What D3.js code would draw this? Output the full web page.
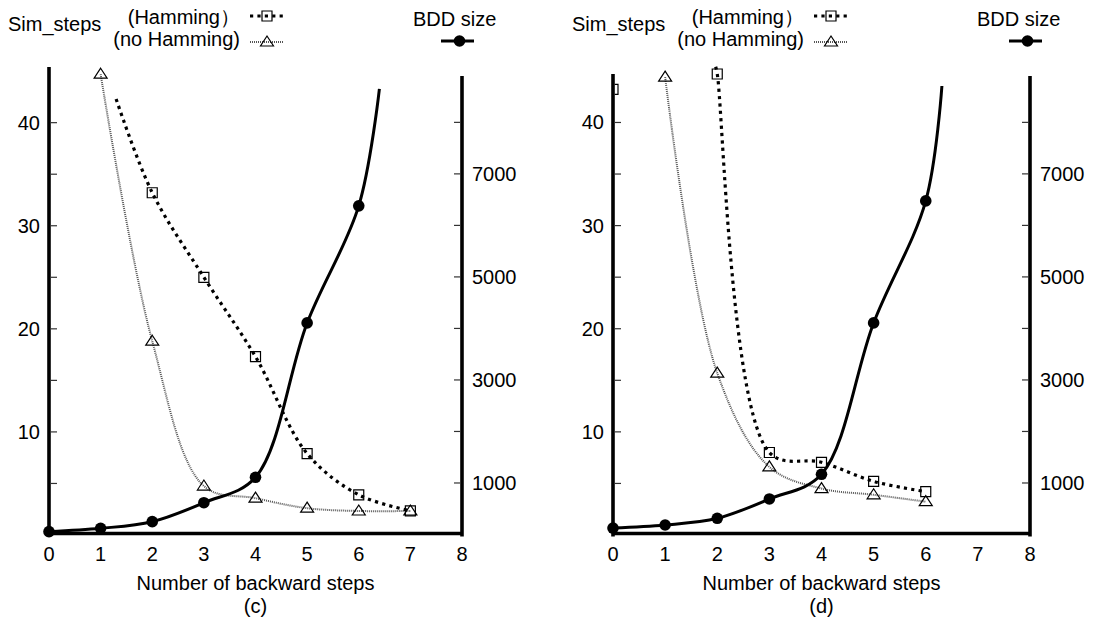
<!DOCTYPE html>
<html>
<head>
<meta charset="utf-8">
<script src="https://cdn.jsdelivr.net/npm/d3@7"></script>
<style>
  body { margin: 0; background: #fff; }
  text { font-family: 'Liberation Sans', Arial, sans-serif; font-size: 20px; fill: #000; }
</style>
</head>
<body>
<div class="chart"></div>
<script>
const width = 1098;
const height = 629;

// x axis
const stepTicks = [0, 1, 2, 3, 4, 5, 6, 7, 8];
const simTicks = [5, 10, 15, 20, 25, 30, 35, 40];
const simLabels = [10, 20, 30, 40];
const bddTicks = [1000, 2000, 3000, 4000, 5000, 6000, 7000, 8000];
const bddLabels = [1000, 3000, 5000, 7000];

// panel (c)
const hammingC = [[2, 33.2], [3, 25.0], [4, 17.3], [5, 7.9], [6, 3.9], [7, 2.35]];
const hammingCStart = [1.3, 42.3]; // visible start of the smoothed curve
const noHammingC = [[1, 44.7], [2, 18.8], [3, 4.75], [4, 3.57], [5, 2.6], [6, 2.33], [7, 2.33]];
const bddC = [[0, 55], [1, 120], [2, 249], [3, 617], [4, 1110], [5, 4107], [6, 6379]];
const bddCEnd = [6.4, 8650];

// panel (d)
const hammingD = [[2, 44.7], [3, 8.0], [4, 7.05], [5, 5.2], [6, 4.2]];
const hammingDStart = [1.97, 45.4];
const hammingDStray = [[0, 43.2]];
const noHammingD = [[1, 44.4], [2, 15.7], [3, 6.6], [4, 4.5], [5, 3.9], [6, 3.23]];
const bddD = [[0, 125], [1, 184], [2, 314], [3, 690], [4, 1169], [5, 4107], [6, 6476]];
const bddDEnd = [6.31, 8706];

const panels = [
  {
    name: '(c)', x0: 49, x1: 462, simMax: 45.4, simTop: 67,
    hamming: hammingC, hammingLine: [hammingCStart, ...hammingC], stray: [],
    noHamming: noHammingC, bdd: bddC, bddLine: [...bddC, bddCEnd],
  },
  {
    name: '(d)', x0: 613, x1: 1030, simMax: 44.7, simTop: 74,
    hamming: hammingD, hammingLine: [hammingDStart, ...hammingD], stray: hammingDStray,
    noHamming: noHammingD, bdd: bddD, bddLine: [...bddD, bddDEnd],
  },
];

const bottom = 535;

const svg = d3
  .select('div.chart')
  .append('svg')
  .attr('width', width)
  .attr('height', height);

const squarePath = (s) => `M${-s / 2},${-s / 2}h${s}v${s}h${-s}Z`;
const trianglePath = (w, h) => `M0,${-h * 0.6}L${w / 2},${h * 0.4}L${-w / 2},${h * 0.4}Z`;

const drawSquare = (g, x, y) => {
  g.append('path')
    .attr('transform', `translate(${x},${y})`)
    .attr('d', squarePath(10))
    .attr('fill', 'none')
    .attr('stroke', '#000')
    .attr('stroke-width', 1.2);
};

const drawTriangle = (g, x, y) => {
  g.append('path')
    .attr('transform', `translate(${x},${y})`)
    .attr('d', trianglePath(13, 10))
    .attr('fill', 'none')
    .attr('stroke', '#000')
    .attr('stroke-width', 1.2);
};

const hammingStyle = (sel) =>
  sel
    .attr('fill', 'none')
    .attr('stroke', '#000')
    .attr('stroke-width', 3.2)
    .attr('stroke-dasharray', '3.2,4.2');

const noHammingStyle = (sel) =>
  sel
    .attr('fill', 'none')
    .attr('stroke', '#555')
    .attr('stroke-width', 2)
    .attr('stroke-dasharray', '1,1');

const bddStyle = (sel) =>
  sel.attr('fill', 'none').attr('stroke', '#000').attr('stroke-width', 3);

panels.forEach((p, i) => {
  const x = d3.scaleLinear().domain([0, 8]).range([p.x0, p.x1]);
  const ySim = d3.scaleLinear().domain([0, p.simMax]).range([bottom, p.simTop]);
  const yBdd = d3.scaleLinear().domain([0, 8900]).range([bottom - 0.5, 76]);

  const g = svg.append('g');

  const clipId = 'clip' + i;
  svg.append('clipPath')
    .attr('id', clipId)
    .append('rect')
    .attr('x', p.x0 + 1.8)
    .attr('y', 60)
    .attr('width', p.x1 - p.x0 - 1.8)
    .attr('height', bottom - 60);

  const lineSim = d3.line()
    .x((d) => x(d[0]))
    .y((d) => ySim(d[1]))
    .curve(d3.curveCatmullRom.alpha(0.5));
  const lineBdd = d3.line()
    .x((d) => x(d[0]))
    .y((d) => yBdd(d[1]))
    .curve(d3.curveCatmullRom.alpha(0.5));

  const plot = g.append('g').attr('clip-path', `url(#${clipId})`);

  plot.append('path').datum(p.noHamming).attr('d', lineSim).call(noHammingStyle);
  plot.append('path').datum(p.hammingLine).attr('d', lineSim).call(hammingStyle);

  p.noHamming.forEach((d) => drawTriangle(plot, x(d[0]), ySim(d[1])));
  p.hamming.concat(p.stray).forEach((d) => drawSquare(plot, x(d[0]), ySim(d[1])));

  g.append('path').datum(p.bddLine).attr('d', lineBdd).call(bddStyle);
  g.selectAll('circle.bdd')
    .data(p.bdd)
    .enter()
    .append('circle')
    .attr('class', 'bdd')
    .attr('cx', (d) => x(d[0]))
    .attr('cy', (d) => yBdd(d[1]))
    .attr('r', 5.8)
    .attr('fill', '#000');

  // axes: left, right, bottom
  g.append('line')
    .attr('x1', p.x0).attr('x2', p.x0)
    .attr('y1', bottom + 1.5).attr('y2', p.simTop)
    .attr('stroke', '#000').attr('stroke-width', 3.6);
  g.append('line')
    .attr('x1', p.x1).attr('x2', p.x1)
    .attr('y1', bottom + 1.5).attr('y2', yBdd.range()[1])
    .attr('stroke', '#000').attr('stroke-width', 3.6);
  g.append('line')
    .attr('x1', p.x0).attr('x2', p.x1)
    .attr('y1', bottom - 1.5).attr('y2', bottom - 1.5)
    .attr('stroke', '#000').attr('stroke-width', 3.6);

  g.selectAll('line.simtick')
    .data(simTicks)
    .enter()
    .append('line')
    .attr('x1', p.x0 + 1.8).attr('x2', p.x0 + 8)
    .attr('y1', (d) => ySim(d)).attr('y2', (d) => ySim(d))
    .attr('stroke', '#333').attr('stroke-width', 1.2);
  g.selectAll('text.simlab')
    .data(simLabels)
    .enter()
    .append('text')
    .attr('x', p.x0 - 9)
    .attr('y', (d) => ySim(d) + 7)
    .attr('text-anchor', 'end')
    .text((d) => d);

  g.selectAll('line.bddtick')
    .data(bddTicks)
    .enter()
    .append('line')
    .attr('x1', p.x1 - 1.8).attr('x2', p.x1 - 8)
    .attr('y1', (d) => yBdd(d)).attr('y2', (d) => yBdd(d))
    .attr('stroke', '#333').attr('stroke-width', 1.2);
  g.selectAll('text.bddlab')
    .data(bddLabels)
    .enter()
    .append('text')
    .attr('x', p.x1 + 10)
    .attr('y', (d) => yBdd(d) + 7)
    .text((d) => d);

  g.selectAll('text.steplab')
    .data(stepTicks)
    .enter()
    .append('text')
    .attr('x', (d) => x(d))
    .attr('y', 561)
    .attr('text-anchor', 'middle')
    .text((d) => d);

  const mid = (p.x0 + p.x1) / 2;
  g.append('text').attr('x', mid).attr('y', 590).attr('text-anchor', 'middle')
    .text('Number of backward steps');
  g.append('text').attr('x', mid).attr('y', 613).attr('text-anchor', 'middle')
    .text(p.name);

  // legend
  g.append('text').attr('x', p.x0 - 41).attr('y', 31).text('Sim_steps');
  g.append('text').attr('x', p.x0 + 191).attr('y', 24).attr('text-anchor', 'end')
    .text('(Hamming\uFF09');
  g.append('text').attr('x', p.x0 + 191).attr('y', 46).attr('text-anchor', 'end')
    .text('(no Hamming)');
  const lx = p.x0 + 218;
  g.append('line').attr('x1', lx - 17).attr('x2', lx + 17).attr('y1', 16).attr('y2', 16)
    .call(hammingStyle);
  drawSquare(g, lx, 16);
  g.append('line').attr('x1', lx - 17).attr('x2', lx + 17).attr('y1', 42).attr('y2', 42)
    .call(noHammingStyle);
  drawTriangle(g, lx, 42);

  g.append('text').attr('x', p.x0 + 364).attr('y', 25.5).text('BDD size');
  g.append('line').attr('x1', p.x1 - 21).attr('x2', p.x1 + 12).attr('y1', 41).attr('y2', 41)
    .call(bddStyle);
  g.append('circle').attr('cx', p.x1 - 2.5).attr('cy', 41).attr('r', 5.8).attr('fill', '#000');
});
</script>
</body>
</html>
